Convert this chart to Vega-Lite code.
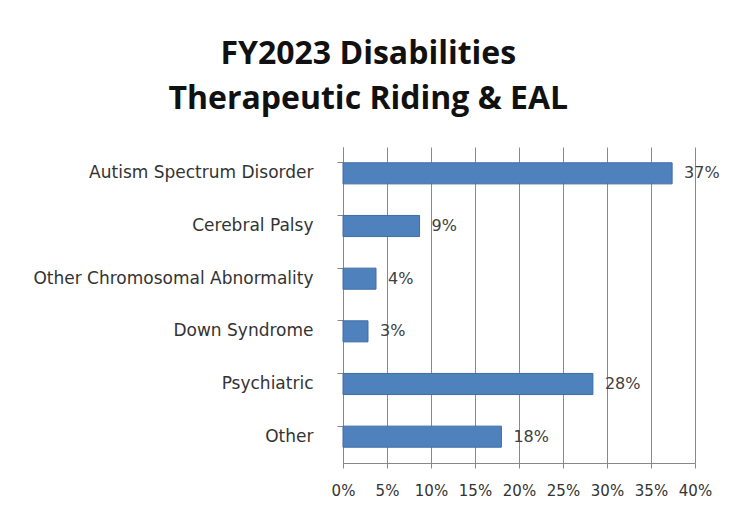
{
  "$schema": "https://vega.github.io/schema/vega-lite/v6.json",
  "autosize": {"type": "none"},
  "width": 352,
  "height": 316,
  "padding": {"left": 343, "top": 147, "right": 38, "bottom": 52},
  "background": "white",
  "title": {
    "text": ["FY2023 Disabilities", "Therapeutic Riding & EAL"],
    "font": "Open Sans",
    "fontSize": 32,
    "fontWeight": "bold",
    "color": "#111111",
    "lineHeight": 45,
    "anchor": "middle",
    "frame": "bounds",
    "dx": -8,
    "offset": 31
  },
  "data": {
    "values": [
      {"category": "Autism Spectrum Disorder", "share": 0.374},
      {"category": "Cerebral Palsy", "share": 0.087},
      {"category": "Other Chromosomal Abnormality", "share": 0.0375},
      {"category": "Down Syndrome", "share": 0.0284},
      {"category": "Psychiatric", "share": 0.284},
      {"category": "Other", "share": 0.18}
    ]
  },
  "encoding": {
    "y": {
      "field": "category",
      "type": "nominal",
      "sort": null,
      "scale": {"paddingInner": 0.6, "paddingOuter": 0.3},
      "axis": {
        "title": null,
        "bandPosition": 0,
        "grid": false,
        "domainColor": "#888888",
        "tickColor": "#888888",
        "tickSize": 6,
        "labelPadding": 24,
        "labelFont": "DejaVu Sans",
        "labelFontSize": 17,
        "labelColor": "#333333",
        "labelLimit": 400
      }
    },
    "x": {
      "field": "share",
      "type": "quantitative",
      "scale": {"domain": [0, 0.4], "nice": false},
      "axis": {
        "title": null,
        "values": [0, 0.05, 0.1, 0.15, 0.2, 0.25, 0.3, 0.35, 0.4],
        "format": ".0%",
        "grid": true,
        "gridColor": "#8a8a8a",
        "gridOpacity": 1,
        "domainColor": "#888888",
        "tickColor": "#888888",
        "tickSize": 5,
        "labelPadding": 15,
        "labelOverlap": false,
        "labelFlush": false,
        "labelFont": "DejaVu Sans",
        "labelFontSize": 15,
        "labelColor": "#333333"
      }
    }
  },
  "layer": [
    {
      "mark": {"type": "bar", "color": "#4F81BD", "stroke": "#3D6DA8", "strokeWidth": 1}
    },
    {
      "mark": {"type": "text", "align": "left", "baseline": "middle", "dx": 12, "font": "DejaVu Sans", "fontSize": 16, "color": "#404040"},
      "encoding": {"text": {"field": "share", "type": "quantitative", "format": ".0%"}}
    }
  ],
  "config": {"view": {"stroke": null}}
}
